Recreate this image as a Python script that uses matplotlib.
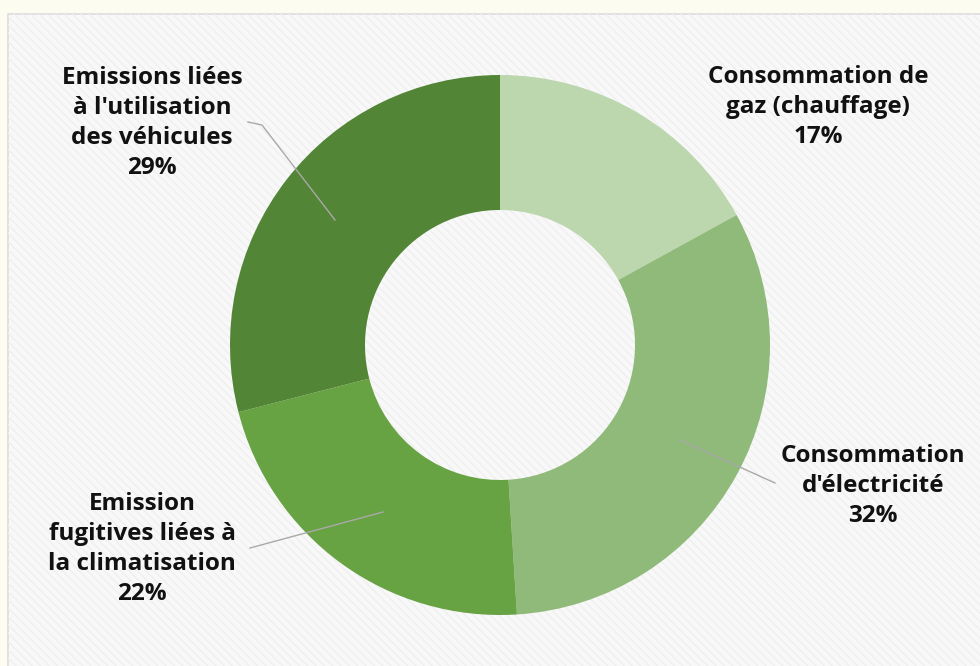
import matplotlib
matplotlib.use("Agg")
import matplotlib.pyplot as plt
from matplotlib.patches import Rectangle

# Données
labels = ["Consommation de\ngaz (chauffage)", "Consommation\nd'électricité",
          "Emission\nfugitives liées à\nla climatisation",
          "Emissions liées\nà l'utilisation\ndes véhicules"]
values = [17, 32, 22, 29]
colors = ["#bcd6ad", "#8fba79", "#67a243", "#538536"]

W, H = 980, 666
fig = plt.figure(figsize=(9.8, 6.66), dpi=100)
fig.patch.set_facecolor("#fcfdf0")
ax = fig.add_axes([0, 0, 1, 1])

cx, cy = 500, H - 345
ax.pie(values, colors=colors, startangle=90, counterclock=False,
       center=(cx, cy), radius=270,
       wedgeprops=dict(width=135, edgecolor="none", linewidth=0))

# panneau gris clair
panel = Rectangle((8, -10), 1000, H - 14 + 10, facecolor="#f8f8f8",
                  edgecolor="#dcdcdc", linewidth=1.2, zorder=-2)
ax.add_patch(panel)
stripes = Rectangle((8, -10), 1000, H - 14 + 10, facecolor="none",
                    edgecolor="#efefef", linewidth=0, hatch="\\\\\\\\", zorder=-1)
ax.add_patch(stripes)

ax.set_xlim(0, W)
ax.set_ylim(0, H)
ax.set_aspect("auto")
ax.axis("off")
ax.set_facecolor("none")

# étiquettes
font = dict(family=["Open Sans", "DejaVu Sans"], fontweight="bold", fontsize=17.5,
            color="#111111", ha="center", va="center", linespacing=1.34)
ax.text(818, H - 107, labels[0] + "\n" + str(values[0]) + "%", **font)
ax.text(873, H - 486, labels[1] + "\n" + str(values[1]) + "%", **font)
ax.text(142, H - 549, labels[2] + "\n" + str(values[2]) + "%", **font)
ax.text(152, H - 123, labels[3] + "\n" + str(values[3]) + "%", **font)

# traits de rappel
line_kw = dict(color="#a9a9a9", linewidth=1, zorder=3)
ax.plot([680, 775], [H - 440, H - 483], **line_kw)
ax.plot([383, 250], [H - 512, H - 548], **line_kw)
ax.plot([335, 262, 248], [H - 220, H - 125, H - 122], **line_kw)

fig.savefig("out.png", dpi=100, facecolor=fig.get_facecolor())
